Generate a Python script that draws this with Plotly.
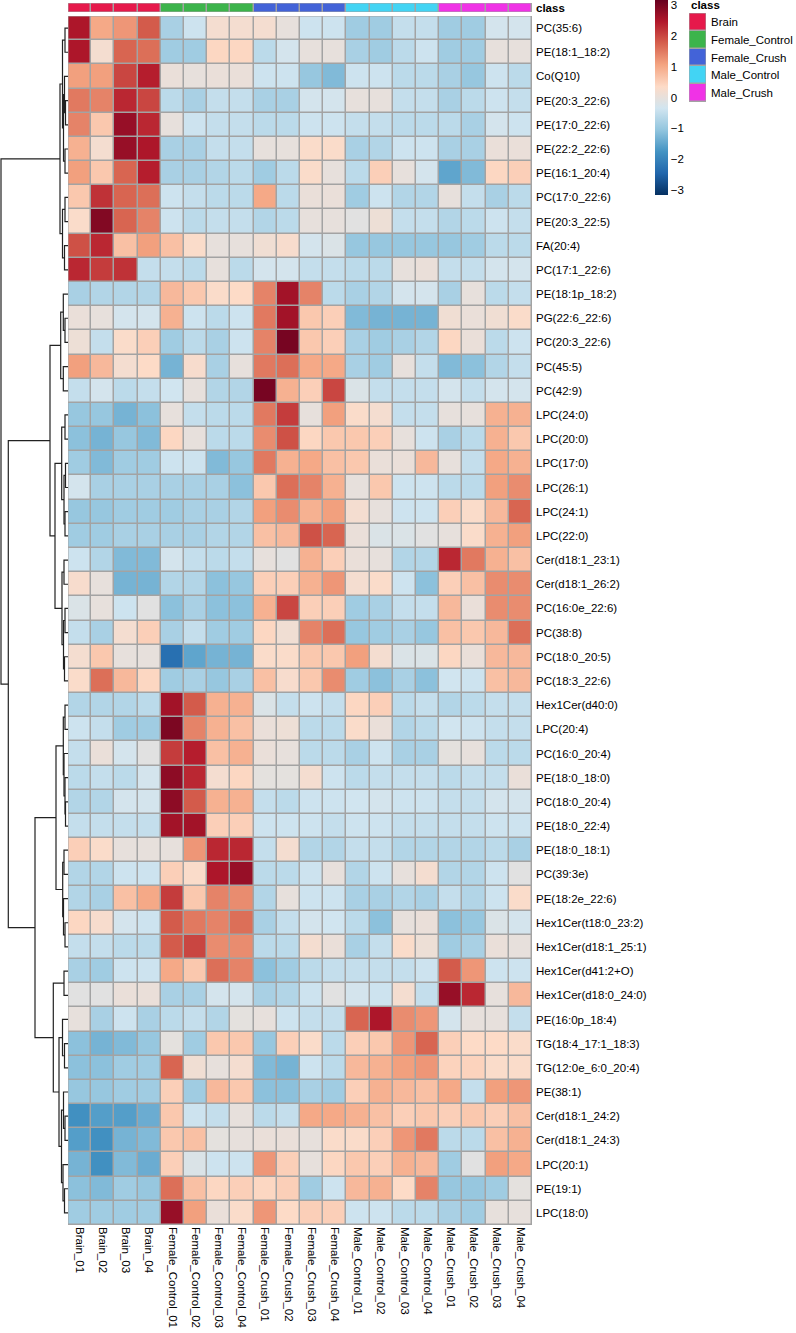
import plotly.graph_objects as go

# ---------------- data ----------------
samples = ["Brain_01", "Brain_02", "Brain_03", "Brain_04",
           "Female_Control_01", "Female_Control_02", "Female_Control_03", "Female_Control_04",
           "Female_Crush_01", "Female_Crush_02", "Female_Crush_03", "Female_Crush_04",
           "Male_Control_01", "Male_Control_02", "Male_Control_03", "Male_Control_04",
           "Male_Crush_01", "Male_Crush_02", "Male_Crush_03", "Male_Crush_04"]
sample_class = (["Brain"] * 4 + ["Female_Control"] * 4 + ["Female_Crush"] * 4 +
                ["Male_Control"] * 4 + ["Male_Crush"] * 4)
class_names = ["Brain", "Female_Control", "Female_Crush", "Male_Control", "Male_Crush"]
class_colors = ["#E6194B", "#3CB44B", "#4363D8", "#42D4F4", "#F032E6"]

features = ["PC(35:6)", "PE(18:1_18:2)", "Co(Q10)", "PE(20:3_22:6)", "PE(17:0_22:6)",
            "PE(22:2_22:6)", "PE(16:1_20:4)", "PC(17:0_22:6)", "PE(20:3_22:5)", "FA(20:4)",
            "PC(17:1_22:6)", "PE(18:1p_18:2)", "PG(22:6_22:6)", "PC(20:3_22:6)", "PC(45:5)",
            "PC(42:9)", "LPC(24:0)", "LPC(20:0)", "LPC(17:0)", "LPC(26:1)",
            "LPC(24:1)", "LPC(22:0)", "Cer(d18:1_23:1)", "Cer(d18:1_26:2)", "PC(16:0e_22:6)",
            "PC(38:8)", "PC(18:0_20:5)", "PC(18:3_22:6)", "Hex1Cer(d40:0)", "LPC(20:4)",
            "PC(16:0_20:4)", "PE(18:0_18:0)", "PC(18:0_20:4)", "PE(18:0_22:4)", "PE(18:0_18:1)",
            "PC(39:3e)", "PE(18:2e_22:6)", "Hex1Cer(t18:0_23:2)", "Hex1Cer(d18:1_25:1)", "Hex1Cer(d41:2+O)",
            "Hex1Cer(d18:0_24:0)", "PE(16:0p_18:4)", "TG(18:4_17:1_18:3)", "TG(12:0e_6:0_20:4)", "PE(38:1)",
            "Cer(d18:1_24:2)", "Cer(d18:1_24:3)", "LPC(20:1)", "PE(19:1)", "LPC(18:0)"]

values = [
    [2.5, 1.0, 1.2, 1.8, -0.8, -0.4, 0.2, 0.2, 0.2, 0.0, -0.4, -0.4, -0.9, -0.9, -0.5, -0.5, -0.9, -0.9, -0.3, -0.3],
    [2.5, 0.2, 1.7, 1.6, -0.9, -0.9, 0.4, 0.4, -0.6, -0.3, 0.0, 0.0, -0.8, -0.9, -0.6, -0.4, -0.9, -0.9, 0.0, 0.0],
    [1.1, 1.1, 2.0, 2.4, 0.05, 0.0, 0.05, 0.05, -0.4, -0.4, -1.0, -1.2, -0.4, -0.4, -0.6, -0.6, -0.8, -1.0, -0.4, -0.6],
    [1.5, 1.4, 2.3, 2.0, -0.6, -0.8, -0.5, -0.5, -0.8, -0.8, -0.3, -0.3, 0.0, 0.0, -0.5, -0.5, -0.8, -0.6, -0.4, -0.5],
    [1.4, 0.6, 2.7, 2.3, 0.0, -0.4, -0.5, -0.5, -0.6, -0.6, -0.4, -0.4, -0.5, -0.5, -0.6, -0.6, -0.6, -0.8, -0.3, -0.4],
    [0.9, 0.2, 2.7, 2.5, -0.8, -0.8, -0.5, -0.5, 0.0, 0.0, 0.3, 0.3, -0.8, -0.7, -0.4, -0.4, -0.8, -0.8, 0.05, 0.05],
    [1.1, 0.6, 1.7, 2.4, -0.8, -0.8, -0.7, -0.6, -0.9, -0.6, 0.3, 0.0, -0.6, 0.5, 0.0, -0.3, -1.5, -1.2, 0.4, 0.5],
    [0.6, 2.2, 1.7, 1.6, -0.4, -0.5, -0.6, -0.6, 1.0, -0.6, 0.05, 0.05, -0.9, -0.4, -0.7, -0.7, 0.0, -0.5, -0.8, -0.6],
    [0.3, 2.9, 1.7, 1.4, -0.4, -0.6, -0.5, -0.5, -0.7, -0.6, 0.0, 0.0, -0.1, 0.1, -0.5, -0.5, -0.7, -0.6, -0.4, -0.5],
    [1.9, 2.3, 0.7, 1.1, 0.7, 0.3, 0.0, 0.0, 0.15, 0.25, -0.3, -0.2, -1.0, -1.0, -1.0, -1.0, -1.0, -0.9, -0.6, -0.6],
    [2.3, 2.1, 2.2, -0.5, -0.5, -0.6, 0.0, -0.6, -0.3, -0.3, -0.5, -0.5, -0.6, -0.6, 0.0, 0.05, -0.5, -0.5, -0.3, -0.3],
    [-0.8, -0.7, -0.7, -0.7, 0.8, 0.6, 0.3, 0.35, 1.4, 2.6, 1.4, -0.6, -0.8, -0.7, -0.3, -0.3, -0.8, 0.0, -0.6, -0.5],
    [0.05, 0.0, -0.3, -0.3, 0.9, -0.4, -0.6, -0.4, 1.5, 2.6, 0.6, 0.5, -1.2, -1.3, -1.3, -1.3, 0.15, 0.05, 0.15, 0.3],
    [0.1, -0.5, 0.3, 0.5, -0.9, -0.6, -0.8, -0.4, 1.4, 3.0, 0.6, 0.5, -0.8, -0.9, -0.8, -0.7, 0.4, 0.05, -0.6, -0.4],
    [1.1, 0.8, 0.2, 0.35, -1.3, 0.25, -0.8, 0.0, 1.5, 1.6, 1.0, 1.0, -0.8, -0.9, 0.0, -0.5, -1.2, -1.1, -0.7, -0.5],
    [-0.5, -0.3, -0.6, -0.5, -0.35, 0.0, -0.7, -0.7, 3.0, 0.9, 0.5, 2.0, -0.2, -0.5, -0.5, -0.5, -0.3, -0.5, -0.3, -0.3],
    [-1.0, -1.0, -1.3, -1.1, 0.0, -0.5, -0.6, -0.6, 1.5, 2.1, 0.0, 1.1, 0.3, 0.2, -0.5, -0.5, 0.0, 0.0, 0.9, 0.9],
    [-1.1, -1.3, -1.0, -1.2, 0.4, 0.0, -0.6, -0.6, 1.3, 1.9, 0.4, 0.6, 0.6, 0.5, 0.0, -0.4, -0.8, -0.6, 0.9, 0.6],
    [-0.9, -1.2, -0.9, -0.9, -0.4, -0.4, -1.2, -1.0, 1.5, 0.9, 1.0, 0.7, 0.6, 0.05, 0.05, 0.8, 0.0, -0.5, 1.0, 0.9],
    [-0.3, -0.8, -0.8, -0.8, -0.8, -0.8, -0.8, -1.1, 0.6, 1.6, 1.4, 0.9, 0.0, 0.6, -0.4, -0.4, -0.6, -0.6, 1.1, 1.3],
    [-1.0, -1.0, -0.9, -0.9, -0.9, -0.8, -0.8, -0.7, 1.1, 1.3, 0.9, 1.1, 0.2, 0.0, -0.4, -0.4, 0.5, 0.3, 0.8, 1.7],
    [-0.9, -0.9, -0.8, -0.8, -0.8, -0.8, -0.7, -0.7, 0.7, 0.8, 1.9, 1.7, 0.05, -0.2, -0.2, -0.1, 0.0, 0.3, 0.9, 1.1],
    [-0.4, -0.7, -1.2, -1.2, -0.3, -0.5, -0.6, -0.5, 0.0, -0.1, 0.9, 0.5, 0.05, 0.0, -0.7, -0.7, 2.3, 1.5, 0.9, 0.7],
    [0.25, 0.0, -1.3, -1.3, -0.7, -0.7, -1.1, -1.0, 0.5, 0.5, 0.9, 1.2, 0.2, 0.3, -0.4, -1.1, 0.5, 0.7, 1.3, 1.3],
    [-0.2, 0.0, -0.4, -0.1, -1.1, -0.8, -1.1, -1.1, 0.9, 2.0, 0.5, 0.5, -0.9, -0.8, -0.5, -0.5, 0.8, 0.05, 1.3, 1.3],
    [-0.5, -0.8, 0.2, 0.5, -0.8, -0.5, -0.9, -0.9, 0.4, 0.15, 1.4, 1.6, -1.0, -0.9, -0.8, -1.0, 0.7, 0.6, 0.8, 1.6],
    [0.2, 0.6, 0.0, 0.0, -2.3, -1.5, -1.3, -1.3, 0.3, 0.3, 0.6, 0.6, 1.1, 0.2, -0.2, -0.2, 0.4, 0.05, 0.8, 0.8],
    [0.3, 1.6, 0.8, 0.4, -0.9, -0.8, -1.0, -0.8, 0.7, 0.25, 0.6, 1.3, -0.9, -1.1, -0.8, -1.1, -0.35, -0.4, 0.7, 0.8],
    [-0.7, -0.7, -0.7, -0.6, 2.6, 1.8, 0.9, 0.9, -0.2, -0.5, -0.4, -0.5, 0.4, 0.5, -0.6, -0.5, -0.7, -0.6, -0.5, -0.5],
    [-0.4, -0.5, -0.9, -0.9, 2.95, 1.4, 0.9, 0.7, 0.05, 0.1, -0.6, -0.6, 0.3, 0.05, -0.7, -0.6, -0.35, -0.4, -0.5, -0.5],
    [-0.5, 0.05, -0.3, -0.1, 2.1, 2.4, 0.7, 0.9, 0.05, 0.0, -0.6, -0.6, -0.8, -0.4, -0.8, -0.8, -0.05, 0.0, -0.6, -0.6],
    [-0.6, -0.5, -0.6, -0.3, 2.8, 2.3, 0.2, 0.4, -0.05, -0.05, 0.2, -0.4, -0.6, -0.5, -0.5, -0.5, -0.6, -0.5, -0.5, 0.05],
    [-0.7, -0.7, -0.3, -0.3, 2.8, 1.8, 0.9, 0.9, -0.5, -0.6, -0.4, -0.4, -0.35, -0.3, -0.4, -0.4, -0.5, -0.5, -0.3, -0.3],
    [-0.5, -0.5, -0.5, -0.5, 2.6, 2.6, 0.5, 0.5, -0.4, -0.4, -0.4, -0.5, -0.4, -0.4, -0.5, -0.5, -0.5, -0.5, -0.4, -0.4],
    [0.5, 0.3, 0.0, 0.0, 0.0, 1.2, 2.3, 2.3, -0.5, 0.2, -0.7, -0.7, -0.5, -0.5, -0.7, -0.7, -0.7, -0.7, -0.6, -0.8],
    [-0.7, -0.7, -0.4, -0.4, 0.5, 0.3, 2.5, 2.7, -0.6, -0.6, -0.4, 0.0, -0.7, -0.4, 0.0, 0.2, -0.7, -0.7, -0.4, -0.1],
    [-0.7, -0.8, 0.7, 1.0, 2.1, 0.6, 1.4, 1.3, -0.7, 0.0, -0.4, -0.4, -0.8, -0.8, -0.7, -0.8, -0.5, -0.7, -0.4, 0.3],
    [0.4, 0.25, -0.3, -0.4, 1.8, 1.5, 1.4, 1.6, -0.8, -0.5, -0.3, -0.35, -0.6, -1.1, 0.0, 0.05, -1.1, -1.0, -0.2, -0.3],
    [-0.5, -0.5, -0.6, -0.6, 1.8, 2.0, 1.3, 1.3, -0.6, -0.6, 0.2, 0.05, -0.8, -0.5, 0.3, 0.1, -0.9, -0.8, 0.05, 0.0],
    [-0.8, -0.9, -0.4, -0.4, 1.0, 0.6, 1.6, 1.4, -1.1, -0.9, -0.6, -0.5, -0.5, -0.5, -0.5, -0.4, 1.8, 1.2, -0.4, -0.4],
    [-0.1, -0.1, 0.05, 0.05, -0.8, -0.8, -0.3, -0.3, -0.8, -0.7, -0.4, -0.1, -0.3, -0.4, 0.2, -0.5, 2.7, 2.3, 0.0, 0.8],
    [0.0, -0.8, -0.4, -0.8, -0.6, -0.5, -0.7, -0.05, 0.0, -0.4, -0.5, -0.5, 1.7, 2.5, 1.3, 1.2, -0.3, 0.0, 0.0, -0.5],
    [-1.1, -1.3, -1.2, -1.0, -0.05, -0.9, 0.6, 0.6, -1.0, 0.5, 0.3, -0.6, 0.5, 0.6, 1.2, 1.7, 0.5, 0.35, 0.35, 0.3],
    [-1.1, -1.1, -0.9, -0.9, 1.7, 0.15, 0.0, 0.2, -1.2, -1.3, -0.4, -0.6, 0.8, 0.9, 1.1, 1.2, 0.45, 0.45, 0.3, 0.3],
    [-1.0, -1.0, -0.9, -0.9, 0.5, -0.9, 0.8, 0.6, -1.1, -1.1, -0.8, -0.9, 0.5, 0.9, 0.8, 0.7, 1.0, -0.5, 1.1, 1.2],
    [-1.8, -1.6, -1.6, -1.4, 0.6, -0.4, -0.5, 0.0, -0.6, -0.5, 1.0, 1.0, 0.9, 0.7, 0.5, 0.6, 0.5, 0.6, 0.5, 0.7],
    [-1.6, -1.8, -1.3, -1.2, 0.6, 0.7, -0.05, 0.0, 0.05, 0.05, 0.0, 0.3, 0.3, 0.5, 1.2, 1.5, -0.6, -0.6, 0.7, 0.9],
    [-1.3, -1.8, -1.2, -1.4, 0.5, -0.2, -0.4, -0.4, 1.2, 0.5, 0.0, 0.4, 0.6, 0.5, 0.9, 0.8, -0.9, -0.1, 1.1, 1.0],
    [-1.1, -1.2, -0.9, -1.0, 1.6, 0.7, 0.4, 0.5, 0.4, 0.5, -0.9, -0.4, 0.8, 0.9, 0.35, 1.4, -1.0, -1.0, -0.9, -0.05],
    [-0.9, -0.9, -0.9, -0.9, 2.7, 1.1, 0.05, 0.3, 1.2, 0.35, 0.5, 0.5, -0.4, -0.4, -0.6, -0.6, -0.8, -0.9, 0.0, 0.0],
]

# row dendrogram (merge height, left, right); leaves are row indices
tree_A = [8, [5.5, [3, 0, 1], [4.5, [3.5, 2, [2.5, 3, 4]], [3, 5, 6]]], [5.5, [3, 7, 8], [3.5, 9, 10]]]
tree_C1 = [7.3, [4.7, 11, [3, 12, 13]], [4.7, 14, 15]]
tree_C2 = [13, [6.3, [3, 16, 17], [4, [2.5, 18, 19], [3, 20, 21]]],
           [6, [4, 22, 23], [4.5, [3, 24, 25], [3.5, 26, 27]]]]
tree_D1 = [12, [4.7, [3, 28, 29], [4, 30, [3, 31, [2.5, 32, 33]]]],
           [5.3, [4, 34, 35], [4.5, 36, [3, 37, 38]]]]
tree_D2 = [14.7, [4, 39, 40],
           [9, [5.5, 41, [3.5, 42, 43]], [6.5, [4.5, 44, [3, 45, 46]], [5, 47, [3.5, 48, 49]]]]]
row_tree = [67, tree_A, [59.7, [18, tree_C1, tree_C2], [33, tree_D1, tree_D2]]]

colorbar_ticks = [-3, -2, -1, 0, 1, 2, 3]
color_limit = 3.15

# ---------------- styling / geometry ----------------
W, H = 796, 1333
def fx(px):
    return px / W
def fy(py):
    return 1 - py / H

FONT = "Liberation Sans"
FS = 11.5
GRID = "#A3A3A3"
rdbu = ["#053061", "#2166AC", "#4393C3", "#92C5DE", "#D1E5F0",
        "#FDDBC7", "#F4A582", "#D6604D", "#B2182B", "#67001F"]
colorscale = [[i / (len(rdbu) - 1), c] for i, c in enumerate(rdbu)]

n_rows, n_cols = len(features), len(samples)
ncls = len(class_names)
cls_scale = []
for i, c in enumerate(class_colors):
    cls_scale += [[i / ncls, c], [(i + 1) / ncls, c]]
class_idx = [class_names.index(c) for c in sample_class]

# dendrogram segments from tree
seg_x, seg_y = [], []
def walk(node):
    if isinstance(node, int):
        return float(node), 0.0
    h, left, right = node
    yl, hl = walk(left)
    yr, hr = walk(right)
    seg_x.extend([hl, h, h, hr, None])
    seg_y.extend([yl, yl, yr, yr, None])
    return (yl + yr) / 2, h
walk(row_tree)
max_h = row_tree[0]

fig = go.Figure()
gray_cs = [[0, GRID], [1, GRID]]

# main heatmap (gray underlay gives the cell borders)
fig.add_trace(go.Heatmap(z=[[0] * n_cols for _ in range(n_rows)], x=list(range(n_cols)),
                         y=list(range(n_rows)), colorscale=gray_cs, showscale=False,
                         hoverinfo="skip", xaxis="x", yaxis="y"))
fig.add_trace(go.Heatmap(z=values, x=list(range(n_cols)), y=list(range(n_rows)),
                         colorscale=colorscale, zmin=-color_limit, zmax=color_limit,
                         xgap=1.5, ygap=1.5, xaxis="x", yaxis="y",
                         colorbar=dict(x=fx(655), xanchor="left", xpad=0, ypad=0,
                                       y=fy(0), yanchor="top", lenmode="pixels", len=195,
                                       thickness=13, thicknessmode="pixels",
                                       outlinewidth=0, ticks="", tickvals=colorbar_ticks,
                                       ticklabeloverflow="allow",
                                       tickfont=dict(family=FONT, size=FS, color="#000"))))

# class annotation bar
fig.add_trace(go.Heatmap(z=[[0] * n_cols], x=list(range(n_cols)), y=[0], colorscale=gray_cs,
                         showscale=False, hoverinfo="skip", xaxis="x", yaxis="y3"))
fig.add_trace(go.Heatmap(z=[class_idx], x=list(range(n_cols)), y=[0], colorscale=cls_scale,
                         zmin=-0.5, zmax=ncls - 0.5, showscale=False, xgap=1.5,
                         xaxis="x", yaxis="y3"))

# dendrogram
fig.add_trace(go.Scatter(x=seg_x, y=seg_y, mode="lines", line=dict(color="#222222", width=1.2),
                         hoverinfo="skip", showlegend=False, xaxis="x2", yaxis="y"))

# class legend
fig.add_trace(go.Heatmap(z=[[0] for _ in range(ncls)], x=[0], y=list(range(ncls)),
                         colorscale=gray_cs, showscale=False, hoverinfo="skip",
                         xaxis="x4", yaxis="y4"))
fig.add_trace(go.Heatmap(z=[[i] for i in range(ncls)], x=[0], y=list(range(ncls)),
                         colorscale=cls_scale, zmin=-0.5, zmax=ncls - 0.5, showscale=False,
                         ygap=1.5, xaxis="x4", yaxis="y4"))

tickfont = dict(family=FONT, size=FS, color="#000")
hidden = dict(visible=False, showgrid=False, zeroline=False)

fig.update_layout(
    width=W, height=H, template="none",
    margin=dict(l=0, r=0, t=0, b=0, pad=0),
    paper_bgcolor="white", plot_bgcolor="white", showlegend=False,
    font=dict(family=FONT, size=FS, color="#000"),
    xaxis=dict(domain=[fx(68), fx(532)], range=[-0.5, n_cols - 0.5], anchor="y",
               tickmode="array", tickvals=list(range(n_cols)), ticktext=samples,
               tickangle=90, ticks="", showgrid=False, zeroline=False, showline=False,
               tickfont=tickfont, automargin=False, ticklabelstandoff=1,
               ticklabeloverflow="allow"),
    yaxis=dict(domain=[fy(1225), fy(16)], range=[n_rows - 0.5, -0.5], anchor="x",
               side="right", tickmode="array", tickvals=list(range(n_rows)), ticktext=features,
               ticks="", showgrid=False, zeroline=False, showline=False,
               tickfont=tickfont, automargin=False, ticklabelstandoff=3),
    xaxis2=dict(domain=[0, fx(68)], range=[max_h + 1, 0], anchor="y", **hidden),
    yaxis3=dict(domain=[fy(12), fy(3)], range=[-0.5, 0.5], anchor="x", side="right",
                tickmode="array", tickvals=[0], ticktext=["<b>class</b>"], ticks="",
                showgrid=False, zeroline=False, showline=False, tickfont=tickfont,
                automargin=False, ticklabelstandoff=3),
    xaxis4=dict(domain=[fx(689), fx(706)], range=[-0.5, 0.5], anchor="y4", **hidden),
    yaxis4=dict(domain=[fy(102), fy(13)], range=[ncls - 0.5, -0.5], anchor="x4", side="right",
                tickmode="array", tickvals=list(range(ncls)), ticktext=class_names, ticks="",
                showgrid=False, zeroline=False, showline=False, tickfont=tickfont,
                automargin=False, ticklabelstandoff=4),
    annotations=[dict(text="<b>class</b>", x=fx(689), y=fy(5), xref="paper", yref="paper",
                      xanchor="left", yanchor="middle", showarrow=False,
                      font=dict(family=FONT, size=FS, color="#000"))],
    shapes=[
        dict(type="rect", xref="x", yref="y", x0=-0.5, x1=n_cols - 0.5, y0=-0.5, y1=n_rows - 0.5,
             line=dict(color=GRID, width=1), fillcolor="rgba(0,0,0,0)", layer="above"),
        dict(type="rect", xref="x", yref="y3", x0=-0.5, x1=n_cols - 0.5, y0=-0.5, y1=0.5,
             line=dict(color=GRID, width=1), fillcolor="rgba(0,0,0,0)", layer="above"),
        dict(type="rect", xref="x4", yref="y4", x0=-0.5, x1=0.5, y0=-0.5, y1=ncls - 0.5,
             line=dict(color=GRID, width=1), fillcolor="rgba(0,0,0,0)", layer="above"),
    ],
)

# remove the browser's default page margin so the figure sits at the window origin
fig.write_html("out.html", config={"displayModeBar": False},
               post_script="document.body.style.margin='0';document.body.style.overflow='hidden';")
